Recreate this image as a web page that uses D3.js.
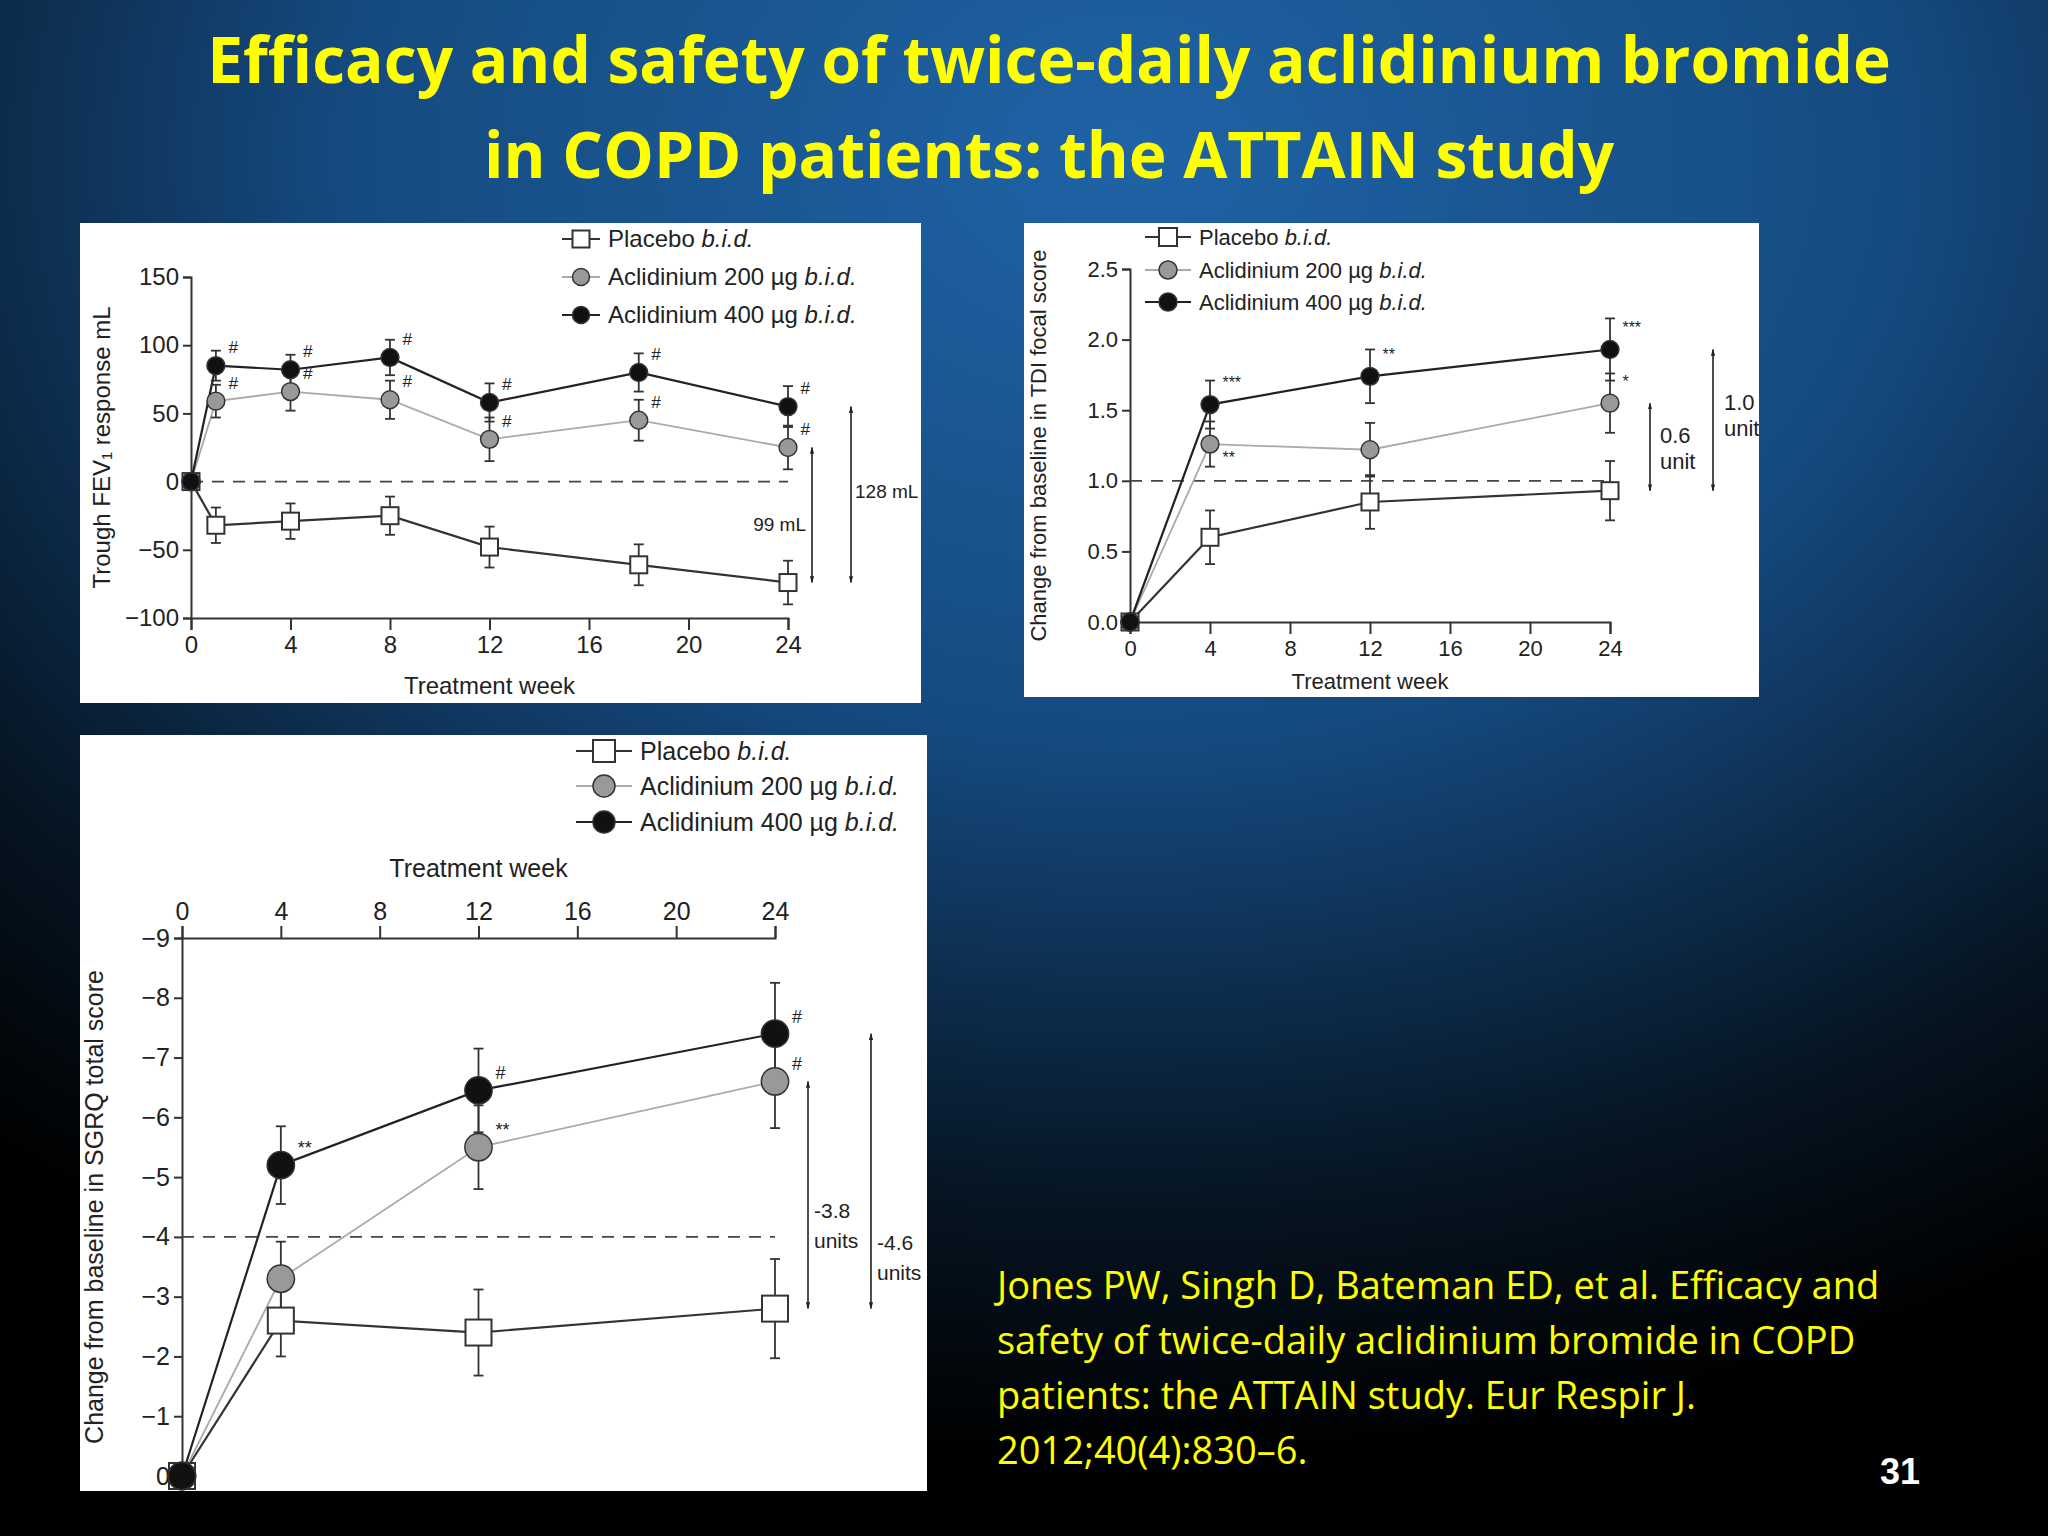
<!DOCTYPE html>
<html><head><meta charset="utf-8">
<script src="https://cdn.jsdelivr.net/npm/d3@7"></script>
<style>body{margin:0;background:#000}svg{display:block}</style></head>
<body><svg id="c" width="2048" height="1536"></svg>
<script>
// ---- data ----
const titleLines = ["Efficacy and safety of twice-daily aclidinium bromide", "in COPD patients: the ATTAIN study"];
const citationLines = ["Jones PW, Singh D, Bateman ED, et al. Efficacy and", "safety of twice-daily aclidinium bromide in COPD", "patients: the ATTAIN study. Eur Respir J.", "2012;40(4):830–6."];
const seriesNames = ["Placebo", "Aclidinium 200 µg", "Aclidinium 400 µg"];
const xTicks = [0, 4, 8, 12, 16, 20, 24];

const fevWeeks = [0, 1, 4, 8, 12, 18, 24];
const fevPlacebo = [0, -32, -29, -25, -48, -61, -74];
const fevPlaceboErr = [0, 13, 13, 14, 15, 15, 16];
const fev200 = [0, 59, 66, 60, 31, 45, 25];
const fev200Err = [0, 12, 14, 14, 16, 15, 16];
const fev400 = [0, 85, 82, 91, 58, 80, 55];
const fev400Err = [0, 11, 11, 13, 14, 14, 15];
const fev200Sig = ["", "#", "#", "#", "#", "#", "#"];
const fev400Sig = ["", "#", "#", "#", "#", "#", "#"];
const fevYTicks = [150, 100, 50, 0, -50, -100];

const tdiWeeks = [0, 4, 12, 24];
const tdiPlacebo = [0, 0.60, 0.85, 0.93];
const tdiPlaceboErr = [0, 0.19, 0.19, 0.21];
const tdi200 = [0, 1.26, 1.22, 1.55];
const tdi200Err = [0, 0.16, 0.19, 0.21];
const tdi400 = [0, 1.54, 1.74, 1.93];
const tdi400Err = [0, 0.17, 0.19, 0.22];
const tdi200Sig = ["", "**", "", "*"];
const tdi400Sig = ["", "***", "**", "***"];
const tdiYTicks = [0, 0.5, 1.0, 1.5, 2.0, 2.5];

const sgWeeks = [0, 4, 12, 24];
const sgPlacebo = [0, -2.6, -2.4, -2.8];
const sgPlaceboErr = [0, 0.6, 0.72, 0.83];
const sg200 = [0, -3.3, -5.5, -6.6];
const sg200Err = [0, 0.62, 0.7, 0.78];
const sg400 = [0, -5.2, -6.45, -7.4];
const sg400Err = [0, 0.65, 0.7, 0.85];
const sg200Sig = ["", "", "**", "#"];
const sg400Sig = ["", "**", "#", "#"];
const sgYTicks = [0, -1, -2, -3, -4, -5, -6, -7, -8, -9];

// ---- drawing ----
const svg = d3.select("#c");
const defs = svg.append("defs");
const g = defs.append("radialGradient").attr("id","bg").attr("cx","0.55").attr("cy","0.1").attr("r","0.85");
g.append("stop").attr("offset","0").attr("stop-color","#1f63a6");
g.append("stop").attr("offset","0.45").attr("stop-color","#154a80");
g.append("stop").attr("offset","0.8").attr("stop-color","#061523");
g.append("stop").attr("offset","1").attr("stop-color","#000");
const mk = defs.append("marker").attr("id","arr").attr("viewBox","0 0 10 10").attr("refX",9).attr("refY",5)
  .attr("markerWidth",7).attr("markerHeight",10).attr("orient","auto-start-reverse").attr("markerUnits","userSpaceOnUse");
mk.append("path").attr("d","M0,2 L10,5 L0,8 Z").attr("fill","#222");
svg.append("rect").attr("width",2048).attr("height",1536).attr("fill","url(#bg)");

svg.selectAll("text.title").data(titleLines).join("text").attr("x",1049).attr("y",(d,i)=>83+i*95)
  .attr("text-anchor","middle").attr("fill","#ffff00").attr("font-family","Open Sans, sans-serif")
  .attr("font-weight","bold").attr("font-size",64).text(d=>d);
svg.selectAll("text.cit").data(citationLines).join("text").attr("x",997).attr("y",(d,i)=>1299+i*55)
  .attr("fill","#ffff00").attr("font-family","Open Sans, sans-serif").attr("font-size",38).text(d=>d);
svg.append("text").attr("x",1920).attr("y",1484).attr("text-anchor","end").attr("fill","#fff")
  .attr("font-family","Liberation Sans, Arial").attr("font-weight","bold").attr("font-size",36).text("31");

const FONT = "Liberation Sans, Arial, sans-serif";
const fills = ["#fff", "#999", "#111"];
const lineCols = ["#333", "#aaa", "#222"];

function panel(o){
  const p = svg.append("g");
  p.append("rect").attr("x",o.box[0]).attr("y",o.box[1]).attr("width",o.box[2]).attr("height",o.box[3]).attr("fill","#fff");
  const cp = "cp"+o.id;
  defs.append("clipPath").attr("id",cp).append("rect").attr("x",o.box[0]).attr("y",o.box[1]).attr("width",o.box[2]).attr("height",o.box[3]);
  const c = p.append("g").attr("clip-path",`url(#${cp})`);
  const x = d3.scaleLinear().domain([0,24]).range(o.xr);
  const y = d3.scaleLinear().domain(o.yd).range(o.yr);
  const fs = o.fs;
  // x axis
  const xa = o.xTop ? d3.axisTop(x) : d3.axisBottom(x);
  c.append("g").attr("transform",`translate(0,${o.xAxisY})`).call(xa.tickValues(xTicks).tickSize(12).tickPadding(6))
    .call(s=>{s.select(".domain").attr("stroke","#333").attr("stroke-width",2);
      s.selectAll(".tick line").attr("stroke","#333").attr("stroke-width",2);
      s.selectAll("text").attr("font-family",FONT).attr("font-size",fs).attr("fill","#222");});
  c.append("g").attr("transform",`translate(${o.xr[0]},0)`).call(d3.axisLeft(y).tickValues(o.yTicks).tickFormat(o.fmt).tickSize(8).tickPadding(4))
    .call(s=>{s.select(".domain").attr("stroke","#333").attr("stroke-width",2);
      s.selectAll(".tick line").attr("stroke","#333").attr("stroke-width",2);
      s.selectAll("text").attr("font-family",FONT).attr("font-size",fs).attr("fill","#222");});
  // labels
  c.append("text").attr("transform",`translate(${o.yLabelX},${(o.yr[0]+o.yr[1])/2}) rotate(-90)`).attr("text-anchor","middle")
    .attr("font-family",FONT).attr("font-size",fs).attr("fill","#222").text(o.yLabel);
  c.append("text").attr("x",(o.xr[0]+o.xr[1])/2).attr("y",o.xLabelY).attr("text-anchor","middle")
    .attr("font-family",FONT).attr("font-size",fs).attr("fill","#222").text("Treatment week");
  // dashed ref
  c.append("line").attr("x1",x(0)).attr("x2",x(24)).attr("y1",y(o.ref)).attr("y2",y(o.ref))
    .attr("stroke","#444").attr("stroke-width",1.8).attr("stroke-dasharray","12,9");
  // series
  const line = d3.line().x(d=>x(d[0])).y(d=>y(d[1]));
  o.series.forEach((s,si)=>{
    const pts = o.weeks.map((w,i)=>[w,s.v[i],s.e[i]]);
    c.append("path").attr("d",line(pts)).attr("fill","none").attr("stroke",lineCols[si]).attr("stroke-width",si==1?1.8:2.2);
  });
  [0,1,2].forEach(si=>{
    const s = o.series[si];
    o.weeks.forEach((w,i)=>{
      if(s.e[i]>0){
        const cx=x(w), y1=y(s.v[i]+s.e[i]), y2=y(s.v[i]-s.e[i]);
        c.append("line").attr("x1",cx).attr("x2",cx).attr("y1",y1).attr("y2",y2).attr("stroke","#333").attr("stroke-width",1.8);
        [y1,y2].forEach(yy=>c.append("line").attr("x1",cx-5).attr("x2",cx+5).attr("y1",yy).attr("y2",yy).attr("stroke","#333").attr("stroke-width",1.8));
      }
    });
  });
  [0,1,2].forEach(si=>{
    const s = o.series[si], r=o.r;
    o.weeks.forEach((w,i)=>{
      if(si==0) c.append("rect").attr("x",x(w)-r).attr("y",y(s.v[i])-r).attr("width",2*r).attr("height",2*r).attr("fill","#fff").attr("stroke","#333").attr("stroke-width",2);
      else c.append("circle").attr("cx",x(w)).attr("cy",y(s.v[i])).attr("r",r*1.05).attr("fill",fills[si]).attr("stroke","#333").attr("stroke-width",1.5);
      if(s.sig && s.sig[i]){
        const below = s.sigBelow && s.sigBelow[i];
        c.append("text").attr("x",x(w)+o.r+4).attr("y", below ? y(s.v[i])+o.r+10 : y(s.v[i]-s.e[i]*0)-o.r+ (o.sigDy||-4))
          .attr("font-family",FONT).attr("font-size",fs*0.72).attr("fill","#222").text(s.sig[i]);
      }
    });
  });
  // arrows
  o.arrows.forEach(a=>{
    c.append("line").attr("x1",a.x).attr("x2",a.x).attr("y1",y(a.from)).attr("y2",y(a.to)).attr("stroke","#222").attr("stroke-width",1.6)
      .attr("marker-start","url(#arr)").attr("marker-end","url(#arr)");
    a.label.forEach((t,k)=>c.append("text").attr("x",a.lx).attr("y",a.ly+k*fs*1.2).attr("text-anchor",a.anchor||"start")
      .attr("font-family",FONT).attr("font-size",a.fs||fs*0.8).attr("fill","#222").text(t));
  });
  // legend
  seriesNames.forEach((n,i)=>{
    const ly=o.leg.y[i], lx=o.leg.x, r=o.leg.r;
    c.append("line").attr("x1",lx).attr("x2",lx+o.leg.w).attr("y1",ly).attr("y2",ly).attr("stroke",lineCols[i]).attr("stroke-width",2);
    const mx=lx+o.leg.w/2;
    if(i==0) c.append("rect").attr("x",mx-r).attr("y",ly-r).attr("width",2*r).attr("height",2*r).attr("fill","#fff").attr("stroke","#333").attr("stroke-width",2);
    else c.append("circle").attr("cx",mx).attr("cy",ly).attr("r",r).attr("fill",fills[i]).attr("stroke","#333").attr("stroke-width",1.5);
    const t=c.append("text").attr("x",lx+o.leg.w+8).attr("y",ly+o.leg.fs*0.35).attr("font-family",FONT).attr("font-size",o.leg.fs).attr("fill","#222");
    t.append("tspan").text(n+" ");
    t.append("tspan").attr("font-style","italic").text("b.i.d.");
  });
}

panel({id:1, box:[80,223,841,480], xr:[191,788], yd:[-100,150], yr:[618,277], xAxisY:618, yTicks:fevYTicks, fmt:d3.format("d"),
  fs:24, yLabelX:110, yLabel:"Trough FEV\u2081 response mL", xLabelY:694, ref:0, weeks:fevWeeks, r:8.5,
  series:[{v:fevPlacebo,e:fevPlaceboErr},{v:fev200,e:fev200Err,sig:fev200Sig},{v:fev400,e:fev400Err,sig:fev400Sig}],
  arrows:[{x:812,from:25,to:-74,label:["99 mL"],lx:806,ly:531,anchor:"end",fs:19},{x:851,from:55,to:-74,label:["128 mL"],lx:855,ly:498,fs:19}],
  leg:{x:562,w:38,y:[239,277,315],r:8.5,fs:24}});

panel({id:2, box:[1024,223,735,474], xr:[1130,1610], yd:[0,2.5], yr:[622,269], xAxisY:622, yTicks:tdiYTicks, fmt:d3.format(".1f"),
  fs:22, yLabelX:1046, yLabel:"Change from baseline in TDI focal score", xLabelY:689, ref:1.0, weeks:tdiWeeks, r:8.5,
  series:[{v:tdiPlacebo,e:tdiPlaceboErr},{v:tdi200,e:tdi200Err,sig:tdi200Sig,sigBelow:[0,1,0,0]},{v:tdi400,e:tdi400Err,sig:tdi400Sig}],
  arrows:[{x:1650,from:1.55,to:0.93,label:["0.6","unit"],lx:1660,ly:443,fs:22},{x:1713,from:1.93,to:0.93,label:["1.0","unit"],lx:1724,ly:410,fs:22}],
  leg:{x:1145,w:46,y:[237,270,302],r:9,fs:22}, sigDy:-8});

panel({id:3, box:[80,735,847,756], xr:[182,775], yd:[-9,0], yr:[938,1476], xAxisY:938, xTop:true, yTicks:sgYTicks, fmt:d3.format("d"),
  fs:25, yLabelX:103, yLabel:"Change from baseline in SGRQ total score", xLabelY:877, ref:-4, weeks:sgWeeks, r:13,
  series:[{v:sgPlacebo,e:sgPlaceboErr},{v:sg200,e:sg200Err,sig:sg200Sig},{v:sg400,e:sg400Err,sig:sg400Sig}],
  arrows:[{x:808,from:-2.8,to:-6.6,label:["-3.8","units"],lx:814,ly:1218,fs:21},{x:871,from:-2.8,to:-7.4,label:["-4.6","units"],lx:877,ly:1250,fs:21}],
  leg:{x:576,w:56,y:[751,786,822],r:11,fs:25}, sigDy:2});
</script></body></html>
